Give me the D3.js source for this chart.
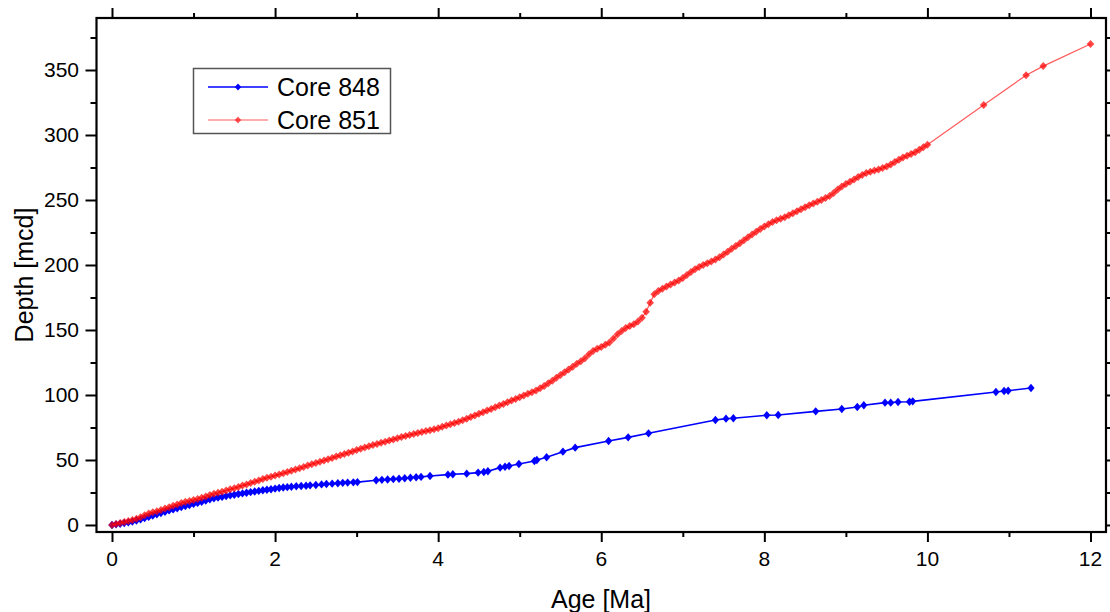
<!DOCTYPE html>
<html>
<head>
<meta charset="utf-8">
<script src="https://cdn.jsdelivr.net/npm/d3@7"></script>
<style>
  body { margin: 0; background: #fff; }
  svg { display: block; font-family: "Liberation Sans", Arial, sans-serif; }
</style>
</head>
<body>
<div id="chart"></div>
<script>
// Core 848 (blue)
const age848 = [
  0.00, 0.05, 0.10, 0.15, 0.20, 0.25, 0.30, 0.35, 0.40, 0.45,
  0.50, 0.55, 0.60, 0.65, 0.70, 0.75, 0.80, 0.85, 0.90, 0.95,
  1.00, 1.05, 1.10, 1.15, 1.20, 1.25, 1.30, 1.35, 1.40, 1.45,
  1.50, 1.55, 1.60, 1.65, 1.70, 1.75, 1.80, 1.85, 1.90, 1.95,
  2.00, 2.05, 2.10, 2.15, 2.20, 2.26, 2.32, 2.38, 2.43, 2.50,
  2.57, 2.63, 2.70, 2.77, 2.83, 2.89, 2.96, 3.01, 3.24, 3.31,
  3.38, 3.45, 3.52, 3.59, 3.66, 3.73, 3.79, 3.90, 4.12, 4.18,
  4.35, 4.49, 4.56, 4.61, 4.76, 4.82, 4.87, 4.99, 5.18, 5.21,
  5.33, 5.53, 5.68, 6.09, 6.33, 6.58, 7.40, 7.53, 7.62, 8.03,
  8.17, 8.63, 8.95, 9.14, 9.22, 9.48, 9.55, 9.64, 9.78, 9.82,
  10.84, 10.94, 10.99, 11.27
];
const depth848 = [
  0.0, 0.5, 1.0, 1.5, 2.0, 2.6, 3.4, 4.3, 5.3, 6.2,
  7.2, 8.2, 9.2, 10.2, 11.2, 12.0, 12.9, 13.8, 14.6, 15.4,
  16.2, 17.0, 17.8, 18.8, 19.8, 20.5, 21.1, 21.6, 22.2, 22.8,
  23.3, 23.8, 24.3, 24.8, 25.3, 25.8, 26.2, 26.7, 27.1, 27.5,
  28.0, 28.4, 28.8, 29.1, 29.4, 29.8, 30.0, 30.2, 30.5, 30.8,
  31.2, 31.5, 31.8, 32.1, 32.4, 32.6, 32.8, 33.0, 34.4, 34.7,
  35.0, 35.3, 35.6, 35.9, 36.3, 36.7, 37.0, 37.7, 38.7, 39.0,
  39.5, 40.3, 40.8, 41.3, 44.1, 44.8, 45.4, 46.9, 49.2, 50.0,
  52.1, 56.4, 59.5, 64.6, 67.4, 70.5, 80.8, 81.8, 82.1, 84.4,
  84.6, 87.4, 89.2, 90.8, 92.1, 94.1, 94.1, 94.6, 94.8, 95.1,
  102.3, 103.1, 103.3, 105.4
];

// Core 851 (red)
const age851 = [
  0.00, 0.05, 0.10, 0.15, 0.20, 0.25, 0.30, 0.35, 0.40, 0.45,
  0.50, 0.55, 0.60, 0.65, 0.70, 0.75, 0.80, 0.85, 0.90, 0.95,
  1.00, 1.05, 1.10, 1.15, 1.20, 1.25, 1.30, 1.35, 1.40, 1.45,
  1.50, 1.55, 1.60, 1.65, 1.70, 1.75, 1.80, 1.85, 1.90, 1.95,
  2.00, 2.05, 2.10, 2.15, 2.20, 2.25, 2.30, 2.35, 2.40, 2.45,
  2.50, 2.55, 2.60, 2.65, 2.70, 2.75, 2.80, 2.85, 2.90, 2.95,
  3.00, 3.05, 3.10, 3.15, 3.20, 3.25, 3.30, 3.35, 3.40, 3.45,
  3.50, 3.55, 3.60, 3.65, 3.70, 3.75, 3.80, 3.85, 3.90, 3.95,
  4.00, 4.05, 4.10, 4.15, 4.20, 4.25, 4.30, 4.35, 4.40, 4.45,
  4.50, 4.55, 4.60, 4.65, 4.70, 4.75, 4.80, 4.85, 4.90, 4.95,
  5.00, 5.05, 5.10, 5.15, 5.20, 5.25, 5.30, 5.35, 5.40, 5.45,
  5.50, 5.55, 5.60, 5.65, 5.70, 5.75, 5.80, 5.85, 5.90, 5.95,
  6.00, 6.05, 6.10, 6.15, 6.20, 6.25, 6.30, 6.35, 6.40, 6.45,
  6.50, 6.55, 6.60, 6.65, 6.70, 6.75, 6.80, 6.85, 6.90, 6.95,
  7.00, 7.05, 7.10, 7.15, 7.20, 7.25, 7.30, 7.35, 7.40, 7.45,
  7.50, 7.55, 7.60, 7.65, 7.70, 7.75, 7.80, 7.85, 7.90, 7.95,
  8.00, 8.05, 8.10, 8.15, 8.20, 8.25, 8.30, 8.35, 8.40, 8.45,
  8.50, 8.55, 8.60, 8.65, 8.70, 8.75, 8.80, 8.85, 8.90, 8.95,
  9.00, 9.05, 9.10, 9.15, 9.20, 9.25, 9.30, 9.35, 9.40, 9.45,
  9.50, 9.55, 9.60, 9.65, 9.70, 9.75, 9.80, 9.85, 9.90, 9.95,
  10.00, 10.69, 11.21, 11.42, 12.00
];
const depth851 = [
  0.0, 0.8, 1.5, 2.2, 3.0, 3.8, 4.8, 6.0, 7.4, 8.8,
  9.7, 10.5, 11.6, 12.6, 13.6, 14.7, 15.8, 17.0, 17.8, 18.5,
  19.3, 20.0, 21.0, 22.0, 23.0, 24.0, 24.8, 25.6, 26.5, 27.4,
  28.3, 29.3, 30.3, 31.2, 32.2, 33.2, 34.3, 35.3, 36.3, 37.1,
  38.0, 38.9, 39.8, 40.7, 41.7, 42.6, 43.6, 44.6, 45.8, 46.8,
  47.7, 48.6, 49.6, 50.6, 51.6, 52.6, 53.6, 54.6, 55.6, 56.6,
  57.6, 58.6, 59.6, 60.6, 61.5, 62.3, 63.2, 64.0, 64.9, 65.8,
  66.7, 67.6, 68.4, 69.2, 70.0, 70.8, 71.5, 72.2, 72.8, 73.6,
  74.5, 75.5, 76.5, 77.5, 78.5, 79.5, 80.6, 81.8, 83.0, 84.3,
  85.5, 86.8, 88.0, 89.3, 90.6, 91.9, 93.1, 94.4, 95.7, 97.0,
  98.3, 99.6, 100.9, 102.2, 103.5, 105.2, 107.0, 109.0, 111.0, 113.2,
  115.4, 117.5, 119.6, 121.8, 124.0, 126.0, 128.2, 131.3, 133.8, 135.6,
  137.0, 138.6, 140.3, 143.5, 146.8, 149.3, 151.5, 153.0, 154.5, 156.5,
  159.5, 164.0, 171.0, 177.5, 180.0, 181.8, 183.5, 185.0, 186.5, 188.0,
  190.0, 192.3, 194.6, 196.7, 198.5, 200.0, 201.3, 202.7, 204.2, 206.0,
  208.0, 210.2, 212.4, 214.6, 216.8, 219.0, 221.3, 223.5, 225.6, 227.6,
  229.6, 231.4, 233.0, 234.4, 235.6, 236.8, 238.2, 239.8, 241.3, 242.9,
  244.5, 246.0, 247.3, 248.6, 250.0, 251.5, 253.0, 255.3, 258.0, 260.3,
  262.3, 264.0, 265.8, 267.6, 269.3, 270.8, 271.8, 272.6, 273.5, 274.6,
  275.8, 277.3, 279.2, 281.0, 282.6, 284.0, 285.4, 286.8, 288.6, 290.6,
  292.5, 323.0, 346.0, 353.0, 370.0
];

const xTicks = [0, 2, 4, 6, 8, 10, 12];
const xMinor = [1, 3, 5, 7, 9, 11];
const yTicks = [0, 50, 100, 150, 200, 250, 300, 350];
const yMinor = [25, 75, 125, 175, 225, 275, 325, 375];

const width = 1110, height = 612;
const plotL = 96.5, plotR = 1106, plotT = 18, plotB = 532;

const svg = d3.select("#chart").append("svg")
  .attr("width", width)
  .attr("height", height);

const x = d3.scaleLinear().domain([-0.19, 12.19]).range([plotL, plotR]);
const y = d3.scaleLinear().domain([-5.4, 390]).range([plotB, plotT]);

// --- axes (outward ticks on all four sides) ---
function tickAxis(axisFn, scale, values, size, translate) {
  const g = svg.append("g")
    .attr("transform", translate)
    .call(axisFn(scale).tickValues(values).tickSize(size).tickFormat(""));
  g.select(".domain").remove();
  g.selectAll("line").attr("stroke", "#000").attr("stroke-width", 2);
  return g;
}
tickAxis(d3.axisBottom, x, xTicks, 10, `translate(0,${plotB})`);
tickAxis(d3.axisBottom, x, xMinor, 5, `translate(0,${plotB})`);
tickAxis(d3.axisTop, x, xTicks, 10, `translate(0,${plotT})`);
tickAxis(d3.axisTop, x, xMinor, 5, `translate(0,${plotT})`);
tickAxis(d3.axisLeft, y, yTicks, 11, `translate(${plotL},0)`);
tickAxis(d3.axisLeft, y, yMinor, 6, `translate(${plotL},0)`);
tickAxis(d3.axisRight, y, yTicks, 10, `translate(${plotR},0)`);
tickAxis(d3.axisRight, y, yMinor, 6, `translate(${plotR},0)`);

// tick labels
svg.append("g").selectAll("text").data(xTicks).join("text")
  .attr("x", d => x(d)).attr("y", 566)
  .attr("text-anchor", "middle").attr("font-size", 21)
  .text(d => d);
svg.append("g").selectAll("text").data(yTicks).join("text")
  .attr("x", 79).attr("y", d => y(d) + 7.5)
  .attr("text-anchor", "end").attr("font-size", 21)
  .text(d => d);

// axis titles
svg.append("text")
  .attr("x", 601).attr("y", 608)
  .attr("text-anchor", "middle").attr("font-size", 25)
  .text("Age [Ma]");
svg.append("text")
  .attr("transform", `translate(33,${(plotT + plotB) / 2}) rotate(-90)`)
  .attr("text-anchor", "middle").attr("font-size", 25)
  .text("Depth [mcd]");

// --- data ---
const core848 = age848.map((a, i) => ({ age: a, depth: depth848[i] }));
const core851 = age851.map((a, i) => ({ age: a, depth: depth851[i] }));

const line = d3.line().x(d => x(d.age)).y(d => y(d.depth));
// squat diamond like Origin's marker
const diamond = (w, h) => `M0,${-h}L${w},0L0,${h}L${-w},0Z`;

const plot = svg.append("g");

plot.append("path").datum(core848)
  .attr("d", line).attr("fill", "none")
  .attr("stroke", "#0000ff").attr("stroke-width", 1.6);
plot.append("g").selectAll("path").data(core848).join("path")
  .attr("transform", d => `translate(${x(d.age)},${y(d.depth)})`)
  .attr("d", diamond(3.6, 4.2)).attr("fill", "#0000ff");

plot.append("path").datum(core851)
  .attr("d", line).attr("fill", "none")
  .attr("stroke", "#ff0000").attr("stroke-opacity", 0.65).attr("stroke-width", 1.2);
plot.append("g").selectAll("path").data(core851).join("path")
  .attr("transform", d => `translate(${x(d.age)},${y(d.depth)})`)
  .attr("d", diamond(3.8, 4.0)).attr("fill", "#ff0000").attr("fill-opacity", 0.72);

// frame
svg.append("rect")
  .attr("x", plotL).attr("y", plotT)
  .attr("width", plotR - plotL).attr("height", plotB - plotT)
  .attr("fill", "none").attr("stroke", "#000").attr("stroke-width", 2.2);

// --- legend ---
const legend = svg.append("g");
legend.append("rect")
  .attr("x", 193.5).attr("y", 68.5).attr("width", 197).attr("height", 65)
  .attr("fill", "#fff").attr("stroke", "#555").attr("stroke-width", 1.5);
const legendItems = [
  { name: "Core 848", color: "#0000ff", op: 1, w: 1.6, cy: 87 },
  { name: "Core 851", color: "#ff0000", op: 0.65, w: 1.2, cy: 120 }
];
legendItems.forEach(it => {
  legend.append("line")
    .attr("x1", 208).attr("x2", 268).attr("y1", it.cy).attr("y2", it.cy)
    .attr("stroke", it.color).attr("stroke-opacity", it.op).attr("stroke-width", it.w);
  legend.append("path")
    .attr("transform", `translate(238,${it.cy})`)
    .attr("d", diamond(3.2, 3.6)).attr("fill", it.color).attr("fill-opacity", it.op);
  legend.append("text")
    .attr("x", 277).attr("y", it.cy + 9)
    .attr("font-size", 25)
    .text(it.name);
});
</script>
</body>
</html>
